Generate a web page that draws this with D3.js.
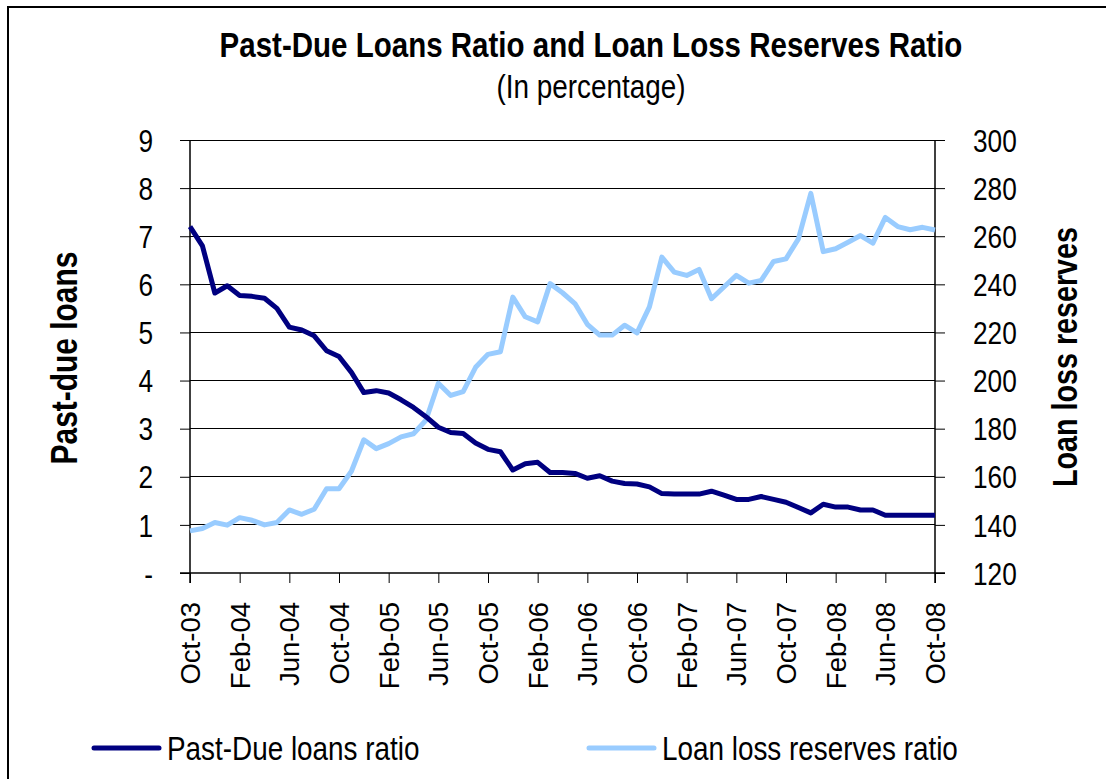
<!DOCTYPE html>
<html>
<head>
<meta charset="utf-8">
<script src="https://cdn.jsdelivr.net/npm/d3@7"></script>
<style>
  html, body { margin: 0; padding: 0; background: #fff; }
  svg { display: block; }
  text { font-family: "Liberation Sans", Arial, sans-serif; fill: #000; }
</style>
</head>
<body>
<svg id="chart" width="1106" height="779"></svg>
<script>
// ---- data ----
const startMonth = new Date(2003, 9, 1);
const endMonth = new Date(2008, 10, 1);
const categories = d3.timeMonth.range(startMonth, endMonth).map(d3.timeFormat("%b-%y"));

const pastDueRatio = [
  7.20, 6.80, 5.82, 5.97, 5.77, 5.75, 5.71, 5.50, 5.11, 5.05,
  4.93, 4.62, 4.50, 4.17, 3.75, 3.79, 3.74, 3.60, 3.44, 3.25,
  3.03, 2.92, 2.90, 2.70, 2.57, 2.52, 2.14, 2.27, 2.30, 2.09,
  2.09, 2.07, 1.97, 2.02, 1.91, 1.86, 1.85, 1.79, 1.65, 1.64,
  1.64, 1.64, 1.70, 1.62, 1.53, 1.53, 1.59, 1.53, 1.47, 1.36,
  1.25, 1.43, 1.37, 1.37, 1.31, 1.31, 1.20, 1.20, 1.20, 1.20,
  1.20
];
const loanLossReserves = [
  137.5, 138.5, 141.0, 139.9, 143.0, 141.9, 140.0, 141.0, 146.2, 144.4,
  146.5, 155.0, 155.0, 162.3, 175.4, 171.7, 173.8, 176.6, 177.9, 183.5,
  198.9, 193.8, 195.4, 205.5, 210.9, 212.0, 234.7, 226.5, 224.4, 240.3,
  236.5, 232.0, 223.4, 218.9, 218.9, 223.0, 219.8, 230.6, 251.3, 245.1,
  243.7, 246.2, 234.0, 238.9, 243.7, 240.5, 241.6, 249.5, 250.6, 258.9,
  277.8, 253.6, 254.8, 257.5, 260.3, 257.1, 267.8, 264.0, 262.7, 263.7,
  262.6
];
const xTickLabels = ["Oct-03","Feb-04","Jun-04","Oct-04","Feb-05","Jun-05","Oct-05","Feb-06",
  "Jun-06","Oct-06","Feb-07","Jun-07","Oct-07","Feb-08","Jun-08","Oct-08"];
const leftTicks = [0,1,2,3,4,5,6,7,8,9];
const rightTicks = [120,140,160,180,200,220,240,260,280,300];
const seriesNames = ["Past-Due loans ratio", "Loan loss reserves ratio"];
const colors = ["#000080", "#99ccff"];

// ---- layout ----
const NX = 0.82; // horizontal compression to emulate a narrow typeface
const svg = d3.select("#chart");
const L = 190, R = 935, T = 140, B = 573;

svg.append("rect").attr("x", 8).attr("y", 7).attr("width", 1200).attr("height", 900)
  .attr("fill", "none").attr("stroke", "#000").attr("stroke-width", 2);

const x = d3.scalePoint().domain(categories).range([L, R]);
const yL = d3.scaleLinear().domain([0, 9]).range([B, T]);
const yR = d3.scaleLinear().domain([120, 300]).range([B, T]);

// gridlines
svg.append("g").selectAll("line").data(leftTicks.filter(d => d > 0)).join("line")
  .attr("x1", L).attr("x2", R).attr("y1", d => yL(d)).attr("y2", d => yL(d))
  .attr("stroke", "#000").attr("stroke-width", 1).attr("shape-rendering", "crispEdges");

// axes
const gL = svg.append("g").attr("transform", `translate(${L},0)`)
  .call(d3.axisLeft(yL).tickValues(leftTicks).tickSize(10)
    .tickFormat(d => d === 0 ? "-" : d3.format("d")(d)));
const gR = svg.append("g").attr("transform", `translate(${R},0)`)
  .call(d3.axisRight(yR).tickValues(rightTicks).tickSize(10));
const gB = svg.append("g").attr("transform", `translate(0,${B})`)
  .call(d3.axisBottom(x).tickValues(xTickLabels).tickSize(10));

[gL, gR, gB].forEach(g => {
  g.select(".domain").attr("stroke", "#000").attr("stroke-width", 1.5);
  g.selectAll(".tick line").attr("stroke", "#000").attr("stroke-width", 1);
  g.selectAll("text").style("font-family", '"Liberation Sans", Arial, sans-serif').attr("fill", "#000");
});
gL.select(".domain").attr("d", `M0,${B+10}V${T}`);
gR.select(".domain").attr("d", `M0,${B+10}V${T}`);
gB.select(".domain").attr("d", `M${L-10},0H${R+10}`);

gL.selectAll(".tick text").style("font-size", "32px").attr("x", 0).attr("y", 0).attr("dy", "0.35em")
  .attr("text-anchor", "end").attr("transform", `translate(-37,0) scale(${NX},1)`);
gR.selectAll(".tick text").style("font-size", "32px").attr("x", 0).attr("y", 0).attr("dy", "0.35em")
  .attr("text-anchor", "start").attr("transform", `translate(38,0) scale(${NX},1)`);
gB.selectAll(".tick text").style("font-size", "27.5px").attr("x", 0).attr("y", 0).attr("dy", "0.35em")
  .attr("text-anchor", "end").attr("transform", `translate(0,29) rotate(-90)`);

// lines
const lineL = d3.line().x((d, i) => x(categories[i])).y(d => yL(d));
const lineR = d3.line().x((d, i) => x(categories[i])).y(d => yR(d));
svg.append("path").datum(loanLossReserves).attr("d", lineR)
  .attr("fill", "none").attr("stroke", colors[1]).attr("stroke-width", 5).attr("stroke-linejoin", "round");
svg.append("path").datum(pastDueRatio).attr("d", lineL)
  .attr("fill", "none").attr("stroke", colors[0]).attr("stroke-width", 5).attr("stroke-linejoin", "round");

// titles
function narrowText(px, py, rot, size, weight, anchor, str) {
  return svg.append("text")
    .attr("transform", `translate(${px},${py})${rot ? " rotate(" + rot + ")" : ""} scale(${NX},1)`)
    .attr("text-anchor", anchor).style("font-size", size + "px").style("font-weight", weight)
    .text(str);
}
narrowText(591, 57, 0, 36, "bold", "middle", "Past-Due Loans Ratio and Loan Loss Reserves Ratio");
narrowText(591, 98, 0, 34, "normal", "middle", "(In percentage)");
narrowText(77, 358, -90, 36.5, "bold", "middle", "Past-due loans");
narrowText(1077, 357, -90, 35, "bold", "middle", "Loan loss reserves");

// legend
const legend = [
  {name: seriesNames[0], color: colors[0], x1: 94, x2: 159, tx: 167},
  {name: seriesNames[1], color: colors[1], x1: 589, x2: 654, tx: 662}
];
const lg = svg.append("g").selectAll("g").data(legend).join("g");
lg.append("line").attr("x1", d => d.x1).attr("x2", d => d.x2).attr("y1", 748).attr("y2", 748)
  .attr("stroke", d => d.color).attr("stroke-width", 5).attr("stroke-linecap", "round");
lg.append("text").attr("transform", d => `translate(${d.tx},760) scale(${NX},1)`)
  .style("font-size", "34px").text(d => d.name);
</script>
</body>
</html>
